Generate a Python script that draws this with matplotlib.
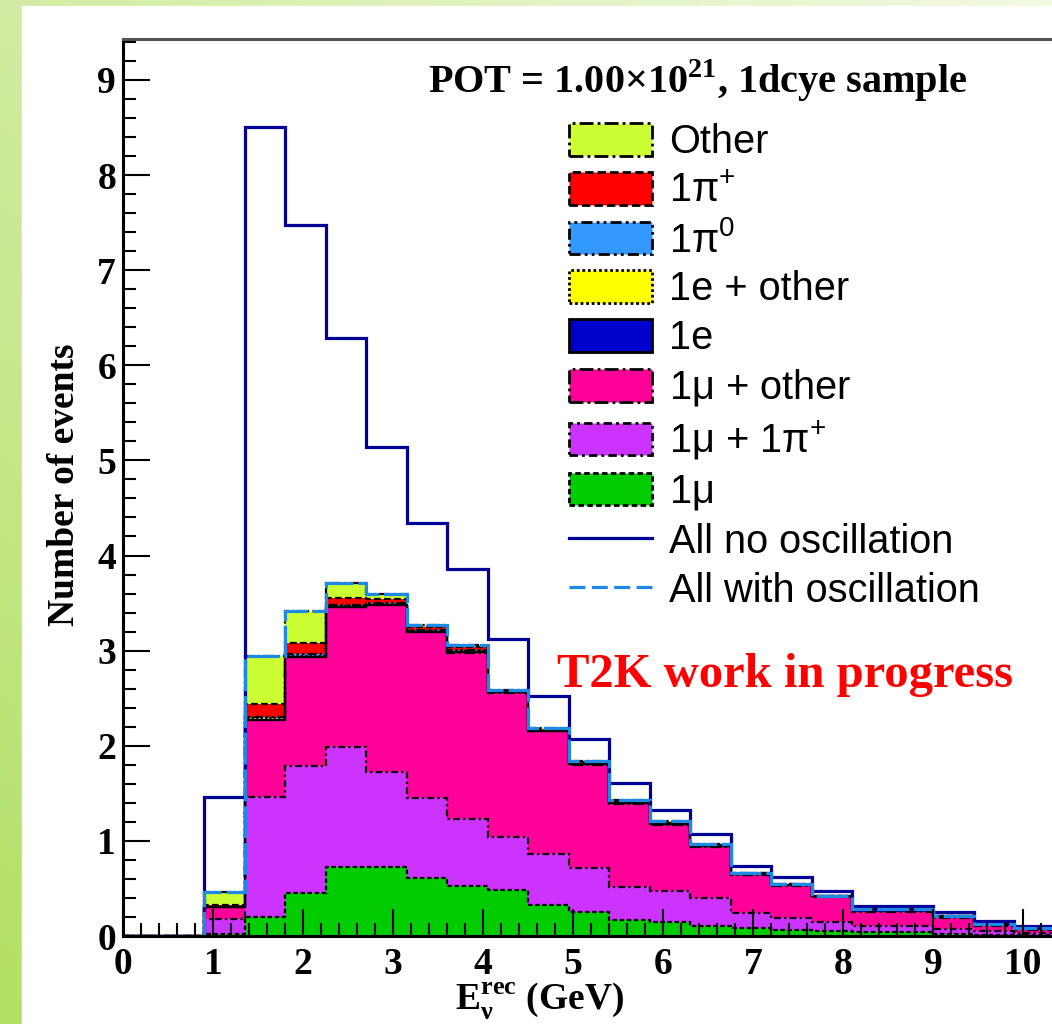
import numpy as np
import matplotlib
matplotlib.use('Agg')
import matplotlib.pyplot as plt
from matplotlib.patches import Patch, Rectangle
from matplotlib.lines import Line2D
from matplotlib.ticker import MultipleLocator

plt.rcParams['mathtext.fontset'] = 'custom'
plt.rcParams['mathtext.rm'] = 'Liberation Sans'
plt.rcParams['mathtext.it'] = 'Liberation Sans:italic'
plt.rcParams['mathtext.bf'] = 'Liberation Serif:bold'
plt.rcParams['mathtext.default'] = 'rm'

# reconstructed energy binning (GeV)
bin_width = 0.45
n_bins = 23

# events per bin, stacked from bottom to top
one_mu = [0, 0, 0.02, 0.20, 0.45, 0.73, 0.73, 0.61, 0.53, 0.48, 0.33, 0.25,
          0.17, 0.15, 0.10, 0.08, 0.06, 0.05, 0.04, 0.04, 0.02, 0.01, 0.01]
one_mu_pip = [0, 0, 0.16, 1.26, 1.34, 1.26, 0.99, 0.84, 0.70, 0.56, 0.53, 0.46,
              0.35, 0.32, 0.30, 0.16, 0.13, 0.10, 0.07, 0.06, 0.05, 0.04, 0.02]
one_mu_other = [0, 0, 0.12, 0.81, 1.14, 1.47, 1.76, 1.75, 1.75, 1.51, 1.29, 1.09,
                0.87, 0.70, 0.54, 0.40, 0.34, 0.26, 0.14, 0.15, 0.12, 0.06, 0.03]
one_e = [0, 0, 0, 0, 0, 0, 0, 0, 0.01, 0.01, 0.01, 0.01,
         0.01, 0.01, 0.01, 0.01, 0.01, 0.01, 0.03, 0.03, 0.02, 0.02, 0.02]
one_e_other = [0, 0, 0.01, 0.02, 0.01, 0.01, 0.01, 0.01, 0.01, 0, 0, 0,
               0, 0, 0, 0, 0, 0, 0, 0, 0, 0, 0]
one_pi0 = [0, 0, 0, 0.01, 0.02, 0.01, 0.01, 0.01, 0.01, 0.01, 0.01, 0.01,
           0.01, 0.01, 0, 0, 0, 0, 0, 0, 0, 0, 0]
one_pip = [0, 0, 0.02, 0.14, 0.12, 0.07, 0.04, 0.03, 0.03, 0.01, 0.01, 0.01,
           0.01, 0.01, 0.01, 0.01, 0.01, 0, 0, 0, 0, 0, 0]
other = [0, 0, 0.13, 0.50, 0.34, 0.16, 0.06, 0.02, 0.02, 0.01, 0.01, 0.01,
         0.01, 0.01, 0.01, 0, 0, 0, 0, 0, 0, 0, 0]
no_osc = [0, 0, 1.46, 8.50, 7.47, 6.29, 5.14, 4.34, 3.86, 3.12, 2.52, 2.07,
          1.61, 1.32, 1.07, 0.74, 0.62, 0.47, 0.32, 0.32, 0.25, 0.16, 0.10]

components = [
    ('1$\\mu$', one_mu, '#00CC00', (0, (2, 1.2))),
    ('1$\\mu$ + 1$\\pi^{+}$', one_mu_pip, '#CC33FF', (0, (3, 1.5, 1, 1.5))),
    ('1$\\mu$ + other', one_mu_other, '#FF0099', (0, (5, 1.5, 1, 1.5))),
    ('1e', one_e, '#0000CC', '-'),
    ('1e + other', one_e_other, '#FFFF00', (0, (1, 1))),
    ('1$\\pi^{0}$', one_pi0, '#3399FF', (0, (4, 1.5, 1, 1.5, 1, 1.5))),
    ('1$\\pi^{+}$', one_pip, '#FF0000', (0, (3, 1.5))),
    ('Other', other, '#CCFF33', (0, (5, 1.5, 1, 1.5))),
]

W, H = 1052, 1024
fig = plt.figure(figsize=(W / 100, H / 100), dpi=100)

# slide background
bg = fig.add_axes([0, 0, 1, 1])
bg.set_xlim(0, W)
bg.set_ylim(H, 0)
bg.axis('off')
gx, gy = np.meshgrid(np.linspace(0, 1, 200), np.linspace(0, 1, 200))
t = 0.5 * gx + 0.5 * (1 - gy)
dark = np.array([178, 224, 100]) / 255
light = np.array([242, 249, 225]) / 255
img = dark + t[..., None] * (light - dark)
bg.imshow(img, extent=(0, W, H, 0), aspect='auto')
bg.add_patch(Rectangle((22, 6), W, H, color='white'))

edges = np.arange(n_bins + 1) * bin_width
ax = fig.add_axes([123 / W, 88 / H, 90 * 10.8 / W, 897 / H])
ax.set_xlim(0, 10.8)
ax.set_ylim(0, 9.43)

bottom = np.zeros(n_bins)
for label, vals, col, ls in components:
    top = bottom + np.array(vals)
    ax.stairs(top, edges, baseline=bottom, fill=True, color=col, lw=0, zorder=1)
    bottom = top
bottom = np.zeros(n_bins)
for label, vals, col, ls in components:
    top = bottom + np.array(vals)
    ax.stairs(top, edges, baseline=None, color='black', lw=1.6, ls=ls, zorder=1.2)
    bottom = top

ax.stairs(no_osc, edges, baseline=None, color='#000099', lw=2.3, zorder=1.5)
ax.stairs(bottom, edges, baseline=None, color='#1E88E5', lw=2.3,
          ls=(0, (10, 1.5)), zorder=1.6)

# frame and ticks
for s in ['left', 'bottom']:
    ax.spines[s].set_linewidth(2.2)
ax.spines['top'].set_color('#555555')
ax.spines['top'].set_linewidth(2.2)
ax.set_axisbelow(False)
ax.xaxis.set_major_locator(MultipleLocator(1))
ax.xaxis.set_minor_locator(MultipleLocator(0.2))
ax.yaxis.set_major_locator(MultipleLocator(1))
ax.yaxis.set_minor_locator(MultipleLocator(0.2))
ax.tick_params(which='both', direction='in', top=False, right=False, width=1.5)
ax.tick_params(which='major', length=19.5, pad=5)
ax.tick_params(axis='x', which='major', pad=8)
ax.tick_params(which='minor', length=9.5)
for lab in ax.get_xticklabels() + ax.get_yticklabels():
    lab.set_fontfamily('Liberation Serif')
    lab.set_fontweight('bold')
    lab.set_fontsize(27)

fig.text(65 / W, 1 - 485 / H, 'Number of events', rotation=90,
         ha='center', va='center', family='Liberation Serif',
         weight='bold', size=27)
fig.text(540 / W, 1 - 1001 / H, '$\\mathbf{E}_{\\mathbf{\\nu}}^{\\mathbf{rec}}$ (GeV)',
         ha='center', va='center', family='Liberation Serif',
         weight='bold', size=27)

ax.text(0.591, 0.940, 'POT = 1.00\u00d710$^{\\mathbf{21}}$, 1dcye sample',
        transform=ax.transAxes, ha='center', va='baseline',
        family='Liberation Serif', weight='bold', size=29)
ax.text(0.681, 0.2776, 'T2K work in progress', transform=ax.transAxes,
        ha='center', va='baseline', family='Liberation Serif',
        weight='bold', size=35, color='red')

handles, labels = [], []
for label, vals, col, ls in components[::-1]:
    handles.append(Patch(facecolor=col, edgecolor='black', lw=2, ls=ls))
    labels.append(label)
handles.append(Line2D([], [], color='#000099', lw=2.3))
labels.append('All no oscillation')
handles.append(Line2D([], [], color='#1E88E5', lw=2.3, ls=(0, (5, 2))))
labels.append('All with oscillation')
ax.legend(handles, labels, loc='upper left', bbox_to_anchor=(0.459, 0.906),
          frameon=False, borderpad=0, borderaxespad=0,
          handlelength=2.08, handleheight=0.89, handletextpad=0.44,
          labelspacing=0.266, prop={'family': 'Liberation Sans', 'size': 28.6})

fig.savefig('out.png', dpi=100)
